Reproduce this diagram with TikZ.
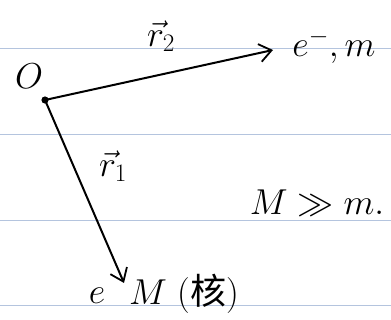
\RequirePackage{fix-cm}
\documentclass[tikz,border=0pt]{standalone}
\usepackage{fontspec}
\newfontfamily\cjk{Noto Sans CJK SC}
\usetikzlibrary{arrows.meta}
\definecolor{rulec}{RGB}{180,196,222}
\begin{document}
\begin{tikzpicture}[x=1pt,y=-1pt,
  rule/.style={draw=rulec, line width=1pt},
  vec/.style={line width=2pt, -{Straight Barb[length=12pt,width=18pt,line width=1.8pt]}},
  lbl/.style={font=\fontsize{36}{40}\selectfont, inner sep=0pt}]
\useasboundingbox (0,0) rectangle (391,320);
\fill[white] (0,0) rectangle (391,320);
\foreach \yy in {49,135,221,306} \draw[rule] (0,\yy) -- (391,\yy);
\coordinate (o) at (45,100);
\coordinate (p2) at (273,50);
\coordinate (p1) at (124,283);
\fill (o) circle (3.6pt);
\draw[vec] (o) -- (p2);
\draw[vec] (o) -- (p1);
\node[lbl] (lo) at (29,76) {$O$};
\node[lbl] (lr2) at (161,36) {$\vec r_2$};
\node[lbl] (le) at (334,46) {$e^-,m$};
\node[lbl] (lr1) at (113,166) {$\vec r_1$};
\node[lbl] (lM) at (317,203) {$M \gg m.$};
\node[lbl] (le2) at (97,296) {$e$};
\node[lbl, anchor=west] (ln) at (129,294) {$M$ ({\cjk 核})};
\end{tikzpicture}
\end{document}
